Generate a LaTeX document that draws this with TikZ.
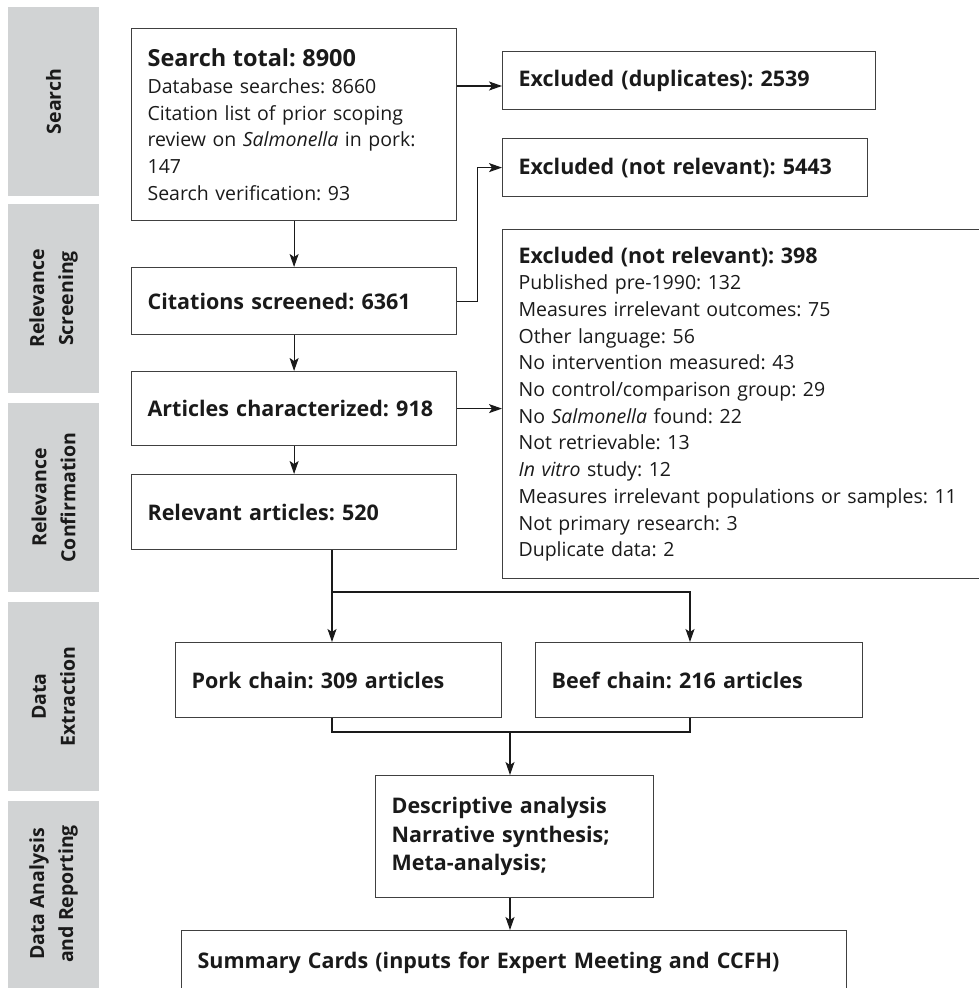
\documentclass[tikz,border=0pt]{standalone}
\usepackage{fontspec}
\setmainfont{Open Sans}
\usetikzlibrary{arrows.meta,calc}
\definecolor{band}{HTML}{D1D3D4}
\definecolor{boxline}{HTML}{404040}
\definecolor{ink}{HTML}{1A1A1A}
\newcommand{\ttl}[1]{{\fontsize{21.5}{26.7}\selectfont\bfseries #1}}
\newcommand{\bigttl}[1]{{\fontsize{23.5}{26.7}\selectfont\bfseries #1}}
\tikzset{
  box/.style={draw=boxline, line width=1.2pt, rectangle, anchor=north west,
    inner xsep=16pt, inner ysep=0pt, align=left, text=ink,
    font=\frenchspacing\fontsize{19.5}{26.7}\selectfont},
  bigbox/.style={box, font=\frenchspacing\bfseries\fontsize{21.5}{28.5}\selectfont},
  bandlbl/.style={rotate=90, align=center, text=ink,
    font=\frenchspacing\bfseries\fontsize{19.5}{29}\selectfont},
  conn/.style={draw=ink, line width=1.2pt},
  arr/.style={conn, -{Stealth[length=13pt,width=9pt,inset=3pt]}}
}
\begin{document}
\frenchspacing
\begin{tikzpicture}[x=1pt,y=-1pt]
\useasboundingbox (0,0) rectangle (979,988);
\clip (0,0) rectangle (979,988);
% stage bands
\fill[band] (8,7) rectangle (99,196);
\fill[band] (8,204) rectangle (99,393);
\fill[band] (8,403) rectangle (99,592);
\fill[band] (8,602) rectangle (99,791);
\fill[band] (8,801) rectangle (99,995);
\node[bandlbl] (l1) at (53.5,101.5) {Search};
\node[bandlbl] (l2) at (53.5,298.5) {Relevance\\Screening};
\node[bandlbl] (l3) at (53.5,497.5) {Relevance\\Confirmation};
\node[bandlbl] (l4) at (53.5,696.5) {Data\\Extraction};
\node[bandlbl] (l5) at (53.5,894) {Data Analysis\\and Reporting};
% boxes
\node[box, text width=293pt, minimum height=192pt] (search) at (131,28)
  {\bigttl{Search total: 8900}\\Database searches: 8660\\Citation list of prior scoping\\review on \textit{Salmonella} in pork:\\147\\Search verification: 93};
\node[bigbox, text width=341pt, minimum height=58pt] (dup) at (502,51)
  {Excluded (duplicates): 2539};
\node[bigbox, text width=333pt, minimum height=58pt] (nrel) at (502,138)
  {Excluded (not relevant): 5443};
\node[bigbox, text width=293pt, minimum height=67pt] (cit) at (131,267)
  {Citations screened: 6361};
\node[box, text width=451pt, minimum height=349pt] (excl) at (502,229)
  {\ttl{Excluded (not relevant): 398}\\Published pre-1990: 132\\Measures irrelevant outcomes: 75\\Other language: 56\\No intervention measured: 43\\No control/comparison group: 29\\No \textit{Salmonella} found: 22\\Not retrievable: 13\\\textit{In vitro} study: 12\\Measures irrelevant populations or samples: 11\\Not primary research: 3\\Duplicate data: 2};
\node[bigbox, text width=293pt, minimum height=74pt] (art) at (131,371)
  {Articles characterized: 918};
\node[bigbox, text width=293pt, minimum height=75pt] (rel) at (131,474)
  {Relevant articles: 520};
\node[bigbox, text width=294pt, minimum height=75pt] (pork) at (175,642)
  {Pork chain: 309 articles};
\node[bigbox, text width=295pt, minimum height=75pt] (beef) at (535,642)
  {Beef chain: 216 articles};
\node[bigbox, text width=246pt, minimum height=122pt] (desc) at (375,775)
  {Descriptive analysis\\Narrative synthesis;\\Meta-analysis;};
\node[bigbox, text width=633pt, minimum height=65pt] (sum) at (181,930)
  {Summary Cards (inputs for Expert Meeting and CCFH)};
% coordinates
\coordinate (ya) at (0,86);
\coordinate (split) at (332,592);
\coordinate (splitR) at (690,592);
\coordinate (mL) at (332,732);
\coordinate (mR) at (690,732);
\coordinate (mM) at (510,732);
% connectors
\draw[arr] (search.south) -- (cit.north);
\draw[arr] (search.east |- ya) -- (dup.west |- ya);
\draw[arr] (cit.east) -- ++(20,0) |- (nrel.west);
\draw[arr] (cit.south) -- (art.north);
\draw[arr] (art.east) -- (art.east -| excl.west);
\draw[arr] (art.south) -- (rel.north);
\draw[conn] (rel.south -| split) -- (split);
\draw[arr] (split) -- (split |- pork.north);
\draw[arr] (split) -- (splitR) -- (splitR |- beef.north);
\draw[conn] (pork.south -| mL) -- (mL) -- (mR) -- (beef.south -| mR);
\draw[arr] (mM) -- (mM |- desc.north);
\draw[arr] (desc.south -| mM) -- (mM |- sum.north);
\end{tikzpicture}
\end{document}
